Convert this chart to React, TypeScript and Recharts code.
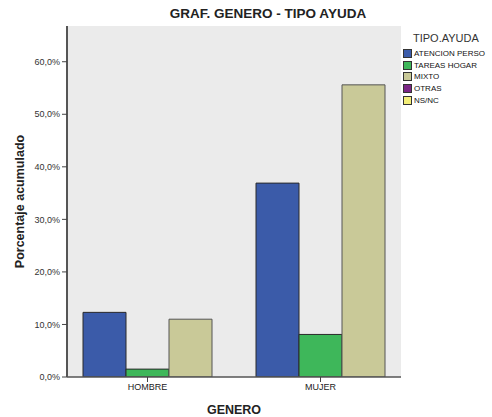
import React from "react";
import { BarChart, Bar, XAxis, YAxis, CartesianGrid } from "recharts";

const categories = ["HOMBRE", "MUJER"];
const atencionPerso = [12.3, 36.9];
const tareasHogar = [1.5, 8.1];
const mixto = [11.0, 55.6];
const yTicks = [0, 10, 20, 30, 40, 50, 60];
const legendNames = ["ATENCION PERSO", "TAREAS HOGAR", "MIXTO", "OTRAS", "NS/NC"];
const legendColors = ["#3B5BA9", "#3EB75A", "#C9C998", "#7B2686", "#F3EE78"];

const data = categories.map((c, i) => ({
  cat: c,
  atencion: atencionPerso[i],
  tareas: tareasHogar[i],
  mixto: mixto[i],
}));

const FONT = "'Liberation Sans', Arial, sans-serif";

const fmt = (v: number) => v.toFixed(1).replace(".", ",") + "%";

export default function App() {
  return (
    <div style={{ position: "absolute", left: 0, top: 0, width: 492, height: 417, background: "#fff", fontFamily: FONT }}>
      <div
        style={{
          position: "absolute",
          left: 0,
          width: 536,
          top: 6,
          textAlign: "center",
          fontWeight: "bold",
          fontSize: 13.5,
          color: "#222",
        }}
      >
        GRAF. GENERO - TIPO AYUDA
      </div>
      <BarChart
        width={492}
        height={417}
        data={data}
        margin={{ top: 26, right: 91, bottom: 0, left: 0 }}
        barGap={0}
        barSize={43}
      >
        <CartesianGrid horizontal={false} vertical={false} fill="#EBEBEB" stroke="none" />
        <XAxis
          dataKey="cat"
          padding={{ left: -6, right: -6 }}
          height={40}
          tickSize={5}
          tick={{ fontSize: 9, fill: "#222", fontFamily: FONT }}
          axisLine={{ stroke: "#555", strokeWidth: 1.5 }}
          tickLine={{ stroke: "#444" }}
          label={{ value: "GENERO", position: "insideBottom", offset: 3, style: { fontSize: 12.5, fontWeight: "bold", fill: "#222", fontFamily: FONT } }}
        />
        <XAxis xAxisId="top" orientation="top" height={0} tick={false} tickLine={false} axisLine={{ stroke: "#999" }} dataKey="cat" />
        <YAxis
          width={67}
          domain={[0, 66.8]}
          ticks={yTicks}
          tickFormatter={fmt}
          tickSize={5}
          tick={{ fontSize: 9, fill: "#333", fontFamily: FONT }}
          axisLine={{ stroke: "#555", strokeWidth: 2 }}
          tickLine={{ stroke: "#444" }}
          allowDataOverflow
          label={{ value: "Porcentaje acumulado", angle: -90, position: "insideLeft", offset: 20, style: { fontSize: 12.5, fontWeight: "bold", fill: "#222", fontFamily: FONT, textAnchor: "middle" } }}
        />
        <YAxis yAxisId="right" orientation="right" width={0} tick={false} tickLine={false} axisLine={{ stroke: "#999" }} />
        <Bar dataKey="atencion" fill={legendColors[0]} stroke="#2a2a2a" strokeWidth={1} isAnimationActive={false} />
        <Bar dataKey="tareas" fill={legendColors[1]} stroke="#2a2a2a" strokeWidth={1} isAnimationActive={false} />
        <Bar dataKey="mixto" fill={legendColors[2]} stroke="#555" strokeWidth={1} isAnimationActive={false} />
      </BarChart>
      <div style={{ position: "absolute", left: 413, top: 32, fontSize: 11, color: "#333" }}>TIPO.AYUDA</div>
      {legendNames.map((n, i) => (
        <div
          key={n}
          style={{ position: "absolute", left: 403, top: 49 + i * 11.7, height: 9, display: "flex", alignItems: "center", fontSize: 8, color: "#111" }}
        >
          <div style={{ width: 7, height: 7, background: legendColors[i], border: "1px solid #333", marginRight: 2 }} />
          <span style={{ lineHeight: "9px" }}>{n}</span>
        </div>
      ))}
    </div>
  );
}
